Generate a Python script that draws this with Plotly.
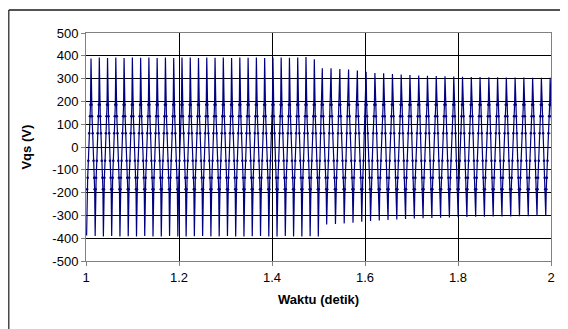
import plotly.graph_objects as go

# ---- data ----
# times (s) of the positive peaks of the waveform
peak_times = [
    1.0108, 1.0286, 1.0463, 1.0641, 1.0819, 1.0997, 1.1175, 1.1352, 1.1530, 1.1708,
    1.1886, 1.2064, 1.2242, 1.2419, 1.2597, 1.2775, 1.2953, 1.3131, 1.3308, 1.3486,
    1.3664, 1.3842, 1.4020, 1.4197, 1.4375, 1.4553, 1.4731, 1.4910,
    1.5082, 1.5270, 1.5459, 1.5647, 1.5836, 1.6024, 1.6213, 1.6401, 1.6590, 1.6778,
    1.6966, 1.7155, 1.7343, 1.7532, 1.7720, 1.7909, 1.8097, 1.8286, 1.8474, 1.8663,
    1.8851, 1.9039, 1.9228, 1.9416, 1.9605, 1.9793, 1.9982,
]
peak_values = [
    388, 392, 390, 393, 390, 392, 391, 393, 390, 392,
    390, 393, 392, 390, 393, 391, 392, 390, 393, 391,
    392, 390, 393, 392, 391, 393, 395, 385,
    345, 345, 342, 340, 335, 330, 325, 323, 320, 318,
    316, 314, 312, 311, 310, 309, 308, 307, 307, 306,
    306, 305, 305, 305, 304, 304, 304,
]
# times (s) and values of the negative troughs
trough_times = [
    1.0013, 1.0197, 1.0374, 1.0552, 1.0730, 1.0908, 1.1086, 1.1263, 1.1441, 1.1619,
    1.1797, 1.1975, 1.2153, 1.2330, 1.2508, 1.2686, 1.2864, 1.3042, 1.3219, 1.3397,
    1.3575, 1.3753, 1.3931, 1.4108, 1.4286, 1.4464, 1.4642, 1.4820, 1.4996,
    1.5176, 1.5365, 1.5553, 1.5742, 1.5930, 1.6119, 1.6307, 1.6495, 1.6684, 1.6872,
    1.7061, 1.7249, 1.7438, 1.7626, 1.7815, 1.8003, 1.8191, 1.8380, 1.8568, 1.8757,
    1.8945, 1.9134, 1.9322, 1.9511, 1.9699, 1.9887, 2.0076,
]
trough_values = [
    -388, -390, -392, -390, -393, -391, -392, -390, -393, -392,
    -390, -392, -393, -391, -390, -393, -392, -390, -392, -393,
    -391, -390, -393, -392, -390, -392, -393, -391, -393,
    -340, -338, -335, -332, -328, -325, -322, -320, -318, -316,
    -314, -312, -311, -310, -309, -308, -307, -306, -306, -305,
    -305, -305, -304, -304, -303, -303, -303,
]
# intermediate sample levels seen as dots on every falling/rising strand
shoulder_levels = [185, 135, 60, -60, -135, -185]
shoulder_phase = [0.12, 0.24, 0.40, 0.60, 0.76, 0.88]

x_ticks = [1, 1.2, 1.4, 1.6, 1.8, 2]
x_ticktext = ["1", "1.2", "1.4", "1.6", "1.8", "2"]
y_ticks = [-500, -400, -300, -200, -100, 0, 100, 200, 300, 400, 500]
y_ticktext = ["-500", "-400", "-300", "-200", "-100", "0", "100", "200", "300", "400", "500"]

# ---- assemble the sampled waveform: trough -> peak -> trough ... ----
t, v = [], []
dot_t, dot_v = [], []
extremes = []
for i in range(len(trough_times)):
    extremes.append((trough_times[i], trough_values[i]))
    if i < len(peak_times):
        extremes.append((peak_times[i], peak_values[i]))
for k in range(len(extremes)):
    ta, va = extremes[k]
    t.append(ta)
    v.append(va)
    if k + 1 < len(extremes):
        tb, vb = extremes[k + 1]
        levels = shoulder_levels if va > vb else shoulder_levels[::-1]
        for f, lv in zip(shoulder_phase, levels):
            tt = ta + f * (tb - ta)
            t.append(tt)
            v.append(lv)
            dot_t.append(tt)
            dot_v.append(lv)

FONT = "Liberation Sans, Arial, sans-serif"

fig = go.Figure()
fig.add_trace(go.Scatter(
    x=t, y=v, mode="lines",
    line=dict(color="#000080", width=1.2),
    hoverinfo="skip", showlegend=False,
))
fig.add_trace(go.Scatter(
    x=dot_t, y=dot_v, mode="markers",
    marker=dict(color="#000080", size=2.6),
    hoverinfo="skip", showlegend=False,
))

fig.update_layout(
    width=568, height=329,
    margin=dict(l=78, r=25, t=25, b=76),
    paper_bgcolor="white", plot_bgcolor="white",
    font=dict(family=FONT, size=13, color="black"),
    xaxis=dict(
        range=[1, 2], tickvals=x_ticks, ticktext=x_ticktext,
        showgrid=True, gridcolor="black", gridwidth=1,
        zeroline=False, showline=True, linecolor="#808080", linewidth=1, mirror=True,
        ticks="outside", ticklen=4, tickcolor="#808080",
        tickfont=dict(family=FONT, size=13),
    ),
    yaxis=dict(
        range=[-500, 500], tickvals=y_ticks, ticktext=y_ticktext,
        showgrid=True, gridcolor="black", gridwidth=1,
        zeroline=False, showline=True, linecolor="#808080", linewidth=1, mirror=True,
        ticks="outside", ticklen=4, tickcolor="#808080",
        tickfont=dict(family=FONT, size=13),
    ),
    annotations=[
        dict(text="<b>Vqs (V)</b>", xref="paper", yref="paper",
             x=-0.13, y=0.5, textangle=-90, showarrow=False,
             font=dict(family=FONT, size=13), xanchor="center", yanchor="middle"),
        dict(text="<b>Waktu (detik)</b>", xref="paper", yref="paper",
             x=0.5, y=-0.1667, showarrow=False,
             font=dict(family=FONT, size=13), xanchor="center", yanchor="middle"),
    ],
    shapes=[
        dict(type="line", xref="paper", yref="paper",
             x0=-0.166, x1=1.2, y0=1.1009, y1=1.1009,
             line=dict(color="#1a1a1a", width=1.6)),
        dict(type="line", xref="paper", yref="paper",
             x0=-0.166, x1=-0.166, y0=1.1009, y1=-0.4,
             line=dict(color="#1a1a1a", width=1.2)),
    ],
)

fig.write_html("out.html")
